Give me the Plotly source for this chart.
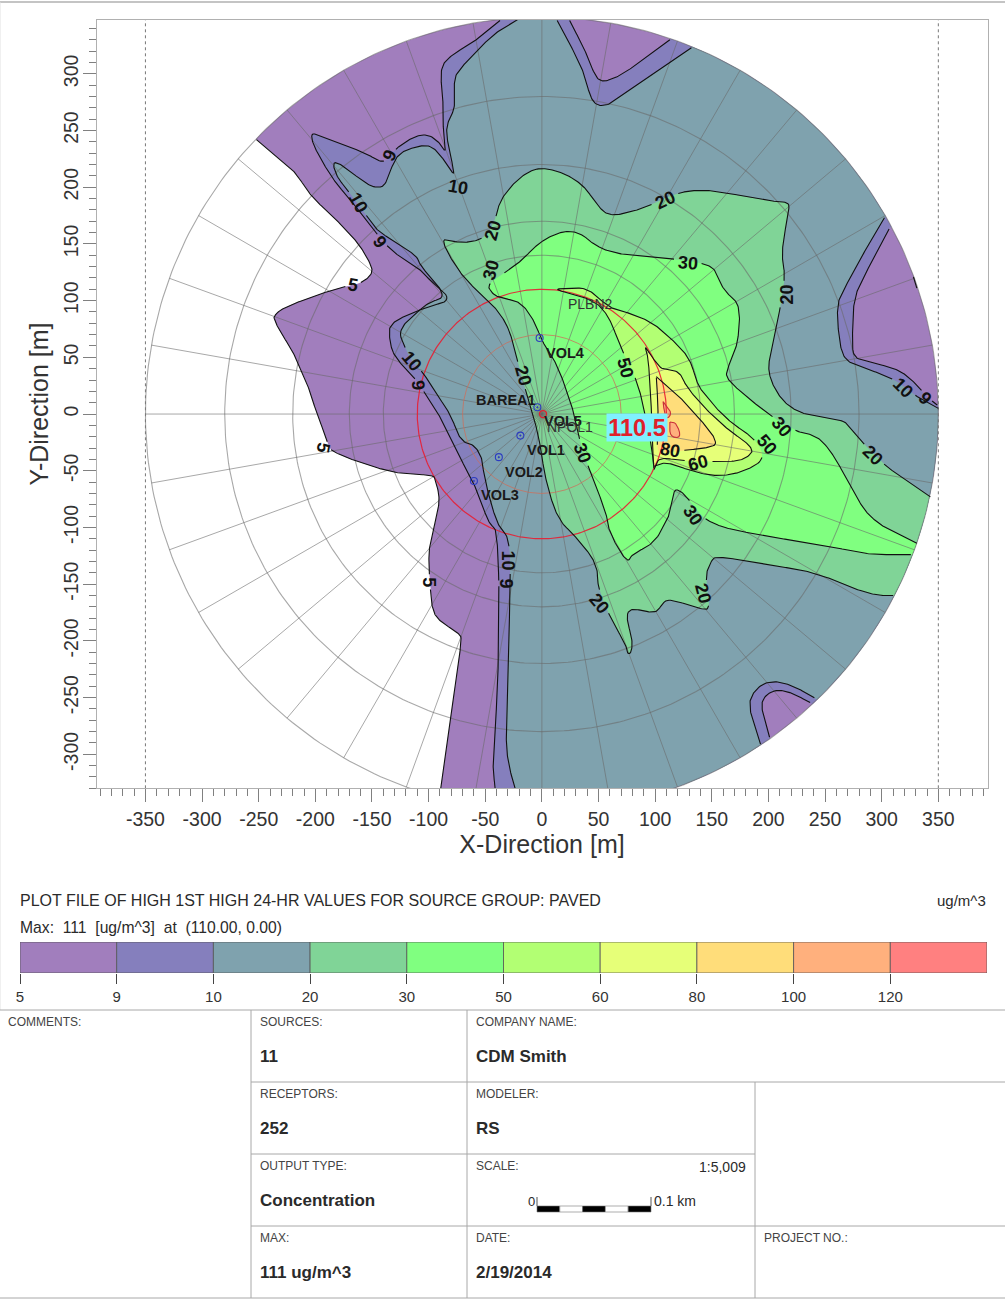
import numpy as np
import plotly.graph_objects as go

W, H = 1005, 1300
FONT = "Liberation Sans"
INK = "#2a2a2a"

# ---------- data: contour lines (metres) ----------
C5 = [(-252,242),(-231,224),(-218,214),(-204,192),(-184,174),(-166,155),(-159,146),(-150,130),(-150,123),(-160,115),
      (-172,113),(-196,106),(-238,90),(-234,77),(-219,54),(-212,36),(-206,24),(-199,1),(-193,-14),(-188,-29),(-185,-33),
      (-166,-41),(-134,-51),(-116,-53),(-96,-54),(-94,-58),(-90,-74),(-93,-91),(-99,-114),(-100,-129),(-99,-147),
      (-97,-173),(-90,-183),(-72,-194),(-71,-200),(-75,-229),(-81,-270),(-85,-300),(-90,-330),(-90,-338)]

C9_LEFT = [(-37,347),(-57,330),(-84,314),(-90,302),(-87,277),(-88,259),(-84,229),(-90,239),(-99,246),(-110,246),(-127,236),
           (-134,227),(-141,221),(-157,231),(-184,240),(-201,248),(-204,245),(-200,233),(-184,206),(-169,189),(-146,159),
           (-131,142),(-110,130),(-99,118),(-84,106),(-84,99),(-96,96),(-113,90),(-134,80),(-135,68),(-131,51),(-113,33),
           (-99,12),(-91,0),(-82,-20),(-71,-41),(-60,-61),(-52,-82),(-47,-96),(-38,-104),(-38,-229),(-43,-300),(-43,-317),
           (-41,-330),(-40,-347)]
C9_LOW = [(201,-285),(193,-258),(197,-248),(207,-243),(219,-245),(238,-255)]
C9_RIGHT = [(349,8),(340,15),(331,26),(316,39),(293,45),(275,49),(274,65),(275,101),(284,121),(307,164)]
C9_TOP = [(113,330),(93,315),(72,300),(57,293),(48,295),(40,317),(24,348)]

C10_LEFT = [(-21,348),(-37,339),(-51,327),(-72,305),(-78,295),(-76,271),(-84,256),(-84,242),(-76,208),(-84,221),(-96,236),
            (-107,237),(-125,231),(-132,220),(-137,204),(-143,199),(-154,202),(-178,221),(-185,222),(-181,209),(-172,198),
            (-154,174),(-146,162),(-128,151),(-110,139),(-107,130),(-90,112),(-87,102),(-99,99),(-110,90),(-127,74),
            (-121,59),(-115,46),(-104,36),(-96,21),(-81,1),(-72,-24),(-60,-27),(-53,-38),(-52,-49),(-46,-76),(-40,-94),
            (-37,-100),(-28,-111),(-28,-167),(-31,-241),(-32,-299),(-24,-330),(-18,-349)]
C10_LOW = [(193,-291),(182,-258),(187,-244),(200,-235),(219,-238),(242,-251)]
C10_RIGHT = [(350,5),(331,15),(313,30),(287,40),(269,46),(263,59),(260,95),(266,109),(284,142),(303,174)]
C10_TOP = [(132,323),(110,308),(66,277),(57,272),(48,272),(42,281),(37,303),(13,348)]

C20 = [(343,-73),(304,-47),(281,-23),(269,-7),(260,-5),(219,2),(198,34),(204,62),(209,86),(215,121),(212,136),(213,154),
       (219,183),(216,187),(207,187),(163,195),(140,198),(119,195),(96,184),(75,177),(60,175),(51,181),(34,206),(1,219),
       (-19,210),(-37,189),(-40,174),(-50,155),(-66,151),(-78,152),(-88,155),(-84,143),(-69,120),(-54,106),(-40,93),
       (-28,74),(-19,36),(-9,4),(-2,-23),(3,-58),(14,-93),(29,-107),(49,-132),(49,-152),(60,-179),(75,-205),(75,-211),
       (79,-211),(80,-199),(75,-182),(76,-173),(84,-172),(101,-176),(107,-166),(113,-163),(140,-172),(149,-172),(144,-144),
       (149,-130),(154,-125),(193,-132),(240,-139),(275,-154),(296,-160),(311,-160)]

C30 = [(331,-114),(290,-94),(272,-63),(257,-35),(243,-19),(225,-16),(198,1),(163,30),(163,39),(172,58),(175,83),(173,99),
       (160,109),(154,127),(143,133),(116,137),(81,139),(51,145),(29,164),(1,155),(-22,131),(-49,115),(-43,105),(-34,102),
       (-19,99),(-7,83),(1,62),(13,45),(25,12),(28,1),(36,-34),(45,-56),(58,-91),(57,-96),(66,-117),(76,-131),(79,-124),
       (99,-114),(109,-96),(112,-91),(116,-67),(122,-67),(131,-77),(146,-96),(181,-105),(257,-117),(287,-124),(327,-124)]

C50 = [(99,-46),(110,-42),(134,-51),(154,-55),(175,-52),(197,-41),(190,-23),(163,-5),(143,18),(137,27),(131,48),(119,62),
       (99,80),(78,89),(60,93),(41,111),(25,111),(9,110),(37,104),(57,92),(71,55),(84,30),(91,1),(96,-23)]
C60 = [(99,-49),(103,-38),(122,-41),(150,-42),(169,-42),(181,-39),(188,-30),(160,-11),(129,21),(122,37),(112,39),(104,40),
       (90,62),(94,51),(97,1),(97,-29)]
C80 = [(101,33),(109,26),(119,18),(143,-8),(156,-26),(146,-30),(125,-32),(110,-33),(101,-35),(103,1)]
C100_A = [(107,11),(115,1),(110,-5),(108,2)]
C100_B = [(113,-7),(119,-8),(123,-21),(113,-20)]
C_MINOR = [(328,121),(331,111)]

LEVELS = ["5", "9", "10", "20", "30", "50", "60", "80", "100", "120"]
COLORS = ["#A17EBD", "#857FBD", "#7FA2AE", "#80D497", "#80FF80", "#B2FF73", "#E6FF78", "#FFDD7A", "#FFB07D", "#FF8080"]

RINGS = [70, 110, 140, 170, 220, 280, 350]
SPOKES = list(range(0, 360, 10))

LBL_TEXT = ["9","10","10","9","5","10","9","5","5","10","9","20","20","30","20","30","20","50","30","80","60","50","30","20","30","20","20","10","9"]
LBL_X = [-134,-74,-162,-143,-167,-115,-109,-193,-100,-30,-32,216,109,129,-43,-45,-17,74,36,113,138,199,212,292,133,142,50,319,338]
LBL_Y = [228,200,186,152,114,47,25,-30,-148,-129,-149,105,189,133,162,127,34,41,-34,-32,-43,-27,-11,-36,-89,-158,-167,23,14]
LBL_ANGLE = [-65,10,60,55,10,50,85,100,90,90,90,-90,-25,5,-75,-75,75,75,70,10,-15,50,50,45,55,75,50,45,45]

SRC_X = [-2, -4, -19, -38, -60]
SRC_Y = [67, 6, -19, -38, -59]
SRC_RED_X, SRC_RED_Y = [1], [0]
BOLD_NAMES = ["VOL4", "VOL5", "BAREA1", "VOL1", "VOL2", "VOL3"]
BOLD_X = [20, 19, -32, 4, -16, -37]
BOLD_Y = [54, -6, 12, -32, -51, -71]
PLAIN_NAMES = ["PLBN2", "NPOL1"]
PLAIN_X = [43, 25]
PLAIN_Y = [97, -11]
PEAK_TEXT, PEAK_X, PEAK_Y = "110.5", 84, -12

X_TICKS = list(range(-350, 351, 50))
Y_TICKS = list(range(-300, 301, 50))

TITLE = "PLOT FILE OF HIGH 1ST HIGH 24-HR VALUES FOR SOURCE GROUP: PAVED"
UNITS = "ug/m^3"
MAXLINE = "Max:  111  [ug/m^3]  at  (110.00, 0.00)"
SMALL_CELLS = [("COMMENTS:", 8, 1022), ("SOURCES:", 260, 1022), ("COMPANY NAME:", 476, 1022), ("RECEPTORS:", 260, 1094),
               ("MODELER:", 476, 1094), ("OUTPUT TYPE:", 260, 1166), ("SCALE:", 476, 1166), ("MAX:", 260, 1238),
               ("DATE:", 476, 1238), ("PROJECT NO.:", 764, 1238)]
BIG_CELLS = [("11", 260, 1056), ("CDM Smith", 476, 1056), ("252", 260, 1128), ("RS", 476, 1128),
             ("Concentration", 260, 1200), ("111 ug/m^3", 260, 1272), ("2/19/2014", 476, 1272)]

R = 350.0


def chaikin(pts, passes=2):
    p = np.asarray(pts, float)
    for _ in range(passes):
        if len(p) < 3:
            return p
        a, b = p[:-1], p[1:]
        mid = np.empty((2 * len(a), 2))
        mid[0::2] = 0.75 * a + 0.25 * b
        mid[1::2] = 0.25 * a + 0.75 * b
        p = np.vstack([p[0], mid, p[-1]])
    return p


def arc(p0, p1):
    t0 = np.arctan2(p0[1], p0[0])
    t1 = np.arctan2(p1[1], p1[0])
    while t1 < t0:
        t1 += 2 * np.pi
    t = np.linspace(t0, t1, max(2, int((t1 - t0) * 60)))
    return np.column_stack([R * np.cos(t), R * np.sin(t)])


def region(pieces):
    """Closed outline: contour pieces joined by counter-clockwise runs of the outer circle."""
    sm = [chaikin(p) for p in pieces]
    out = []
    for i, p in enumerate(sm):
        out.append(p)
        out.append(arc(p[-1], sm[(i + 1) % len(sm)][0]))
    return np.vstack(out)


def closed(pts):
    return chaikin(list(pts) + [pts[0]])


def stroke(curves, level):
    """Contour stroke, broken where a label of the same level sits."""
    gaps = [(x, y, 12 if len(t) > 1 else 6.5) for t, x, y in zip(LBL_TEXT, LBL_X, LBL_Y) if t == level]
    xs, ys = [], []
    for c in curves:
        for a, b in zip(c[:-1], c[1:]):
            n = max(1, int(np.hypot(*(b - a))))
            for f in np.linspace(0, 1, n, endpoint=False):
                q = a + (b - a) * f
                if any(np.hypot(q[0] - gx, q[1] - gy) < gr for gx, gy, gr in gaps):
                    if xs and xs[-1] is not None:
                        xs.append(None); ys.append(None)
                else:
                    xs.append(float(q[0])); ys.append(float(q[1]))
        xs.append(None); ys.append(None)
    return xs, ys


fig = go.Figure()


def fill(poly, color):
    fig.add_trace(go.Scatter(x=poly[:, 0], y=poly[:, 1], mode="lines", fill="toself", fillcolor=color,
                             line=dict(width=0, color=color), hoverinfo="skip", showlegend=False))


fill(region([C5]), COLORS[0])
fill(region([C9_LEFT, C9_LOW, C9_RIGHT, C9_TOP]), COLORS[1])
fill(region([C10_LEFT, C10_LOW, C10_RIGHT, C10_TOP]), COLORS[2])
fill(region([C20]), COLORS[3])
fill(region([C30]), COLORS[4])
fill(closed(C50), COLORS[5])
fill(closed(C60), COLORS[6])
fill(closed(C80), COLORS[7])
fill(closed(C100_A), COLORS[8])
fill(closed(C100_B), COLORS[8])

# receptor grid
GRID = "rgba(105,105,105,0.58)"
th = np.linspace(0, 2 * np.pi, 361)
for a in SPOKES:
    fig.add_trace(go.Scatter(x=[0, R * np.cos(np.radians(a))], y=[0, R * np.sin(np.radians(a))], mode="lines",
                             line=dict(color=GRID, width=1), hoverinfo="skip", showlegend=False))
for r in RINGS:
    col, w = GRID, 1.1
    if r == 70:
        col, w = "rgba(205,110,90,0.75)", 1
    if r == 110:
        col, w = "rgba(232,30,50,0.9)", 1.2
    fig.add_trace(go.Scatter(x=r * np.cos(th), y=r * np.sin(th), mode="lines",
                             line=dict(color=col, width=w), hoverinfo="skip", showlegend=False))

# dotted limits
for xv in (-R, R):
    fig.add_trace(go.Scatter(x=[xv, xv], y=[-330, 347.7], mode="lines", line=dict(color="#777", width=1, dash="dot"),
                             hoverinfo="skip", showlegend=False))

# contour strokes
STROKES = [("5", [C5]), ("9", [C9_LEFT, C9_LOW, C9_RIGHT, C9_TOP]), ("10", [C10_LEFT, C10_LOW, C10_RIGHT, C10_TOP]),
           ("20", [C20]), ("30", [C30]), ("50", [C50 + C50[:1]]), ("60", [C60 + C60[:1]]), ("80", [C80 + C80[:1]])]
for lev, pieces in STROKES:
    sx, sy = stroke([chaikin(p) for p in pieces], lev)
    fig.add_trace(go.Scatter(x=sx, y=sy, mode="lines", line=dict(color="#111", width=1.1), hoverinfo="skip",
                             showlegend=False))
for p in (C100_A, C100_B):
    c = closed(p)
    fig.add_trace(go.Scatter(x=c[:, 0], y=c[:, 1], mode="lines", line=dict(color="#c8303a", width=1.1),
                             hoverinfo="skip", showlegend=False))
fig.add_trace(go.Scatter(x=[p[0] for p in C_MINOR], y=[p[1] for p in C_MINOR], mode="lines",
                         line=dict(color="#111", width=1.1), hoverinfo="skip", showlegend=False))

# sources
fig.add_trace(go.Scatter(x=SRC_X, y=SRC_Y, mode="markers", showlegend=False, hoverinfo="skip",
                         marker=dict(symbol="circle-open-dot", size=7, color="#2c3cc0", line=dict(width=1.1, color="#2c3cc0"))))
fig.add_trace(go.Scatter(x=SRC_RED_X, y=SRC_RED_Y, mode="markers", showlegend=False, hoverinfo="skip",
                         marker=dict(symbol="circle-open", size=7, color="#e02030", line=dict(width=1.3, color="#e02030"))))

# legend colour bar on its own axes
fig.add_trace(go.Bar(x=[i + 0.5 for i in range(len(COLORS))], y=[1] * len(COLORS), width=1, xaxis="x2", yaxis="y2",
                     marker=dict(color=COLORS, line=dict(color="#555", width=0.8)), hoverinfo="skip", showlegend=False))

ann = []


def note(text, x, y, size, bold=False, anchor="left", color=INK):
    pad = -2 if anchor == "left" else 2
    ann.append(dict(text=f"<b>{text}</b>" if bold else text, x=(x + pad) / W, y=1 - y / H, xref="paper", yref="paper",
                    xanchor=anchor, yanchor="middle", showarrow=False, font=dict(family=FONT, size=size, color=color)))


for t, x, y, a in zip(LBL_TEXT, LBL_X, LBL_Y, LBL_ANGLE):
    ann.append(dict(text=f"<b>{t}</b>", x=x, y=y, xref="x", yref="y", textangle=a, showarrow=False,
                    font=dict(family=FONT, size=18, color="#111")))
for t, x, y in zip(BOLD_NAMES, BOLD_X, BOLD_Y):
    ann.append(dict(text=f"<b>{t}</b>", x=x, y=y, xref="x", yref="y", showarrow=False,
                    font=dict(family=FONT, size=14.5, color="#1a1a1a")))
for t, x, y in zip(PLAIN_NAMES, PLAIN_X, PLAIN_Y):
    ann.append(dict(text=t, x=x, y=y, xref="x", yref="y", showarrow=False,
                    font=dict(family=FONT, size=14, color="#333")))
ann.append(dict(text=f"<b>{PEAK_TEXT}</b>", x=PEAK_X, y=PEAK_Y, xref="x", yref="y", showarrow=False, bgcolor="#80F0FF",
                width=60, height=27, borderpad=0, font=dict(family=FONT, size=23.5, color="#E0202A")))

note(TITLE, 20, 900, 16)
note(UNITS, 986, 900, 15, anchor="right")
note(MAXLINE, 20, 927, 15.7)
for t, x, y in SMALL_CELLS:
    note(t, x, y, 12, color="#444")
for t, x, y in BIG_CELLS:
    note(t, x, y, 17, bold=True)
note("1:5,009", 746, 1167, 14, anchor="right")
note("0", 528, 1201, 13)
note("0.1 km", 654, 1201, 14)

shapes = []


def rule(x0, y0, x1, y1, color="#a8a8a8", width=1):
    shapes.append(dict(type="line", xref="paper", yref="paper", x0=x0 / W, x1=x1 / W, y0=1 - y0 / H, y1=1 - y1 / H,
                       line=dict(color=color, width=width)))


rule(0, 2, W, 2, "#c4c4c4", 2)
rule(0, 2, 0, 1010, "#e2e2e2", 1)
rule(0, 1010, W, 1010)
rule(251, 1082, W, 1082)
rule(251, 1154, 755, 1154)
rule(251, 1226, W, 1226)
rule(0, 1298, W, 1298)
rule(251, 1010, 251, 1298)
rule(467, 1010, 467, 1298)
rule(755, 1082, 755, 1298)
# scale bar
for i in range(5):
    x0 = 537 + i * 22.8
    shapes.append(dict(type="rect", xref="paper", yref="paper", x0=x0 / W, x1=(x0 + 22.8) / W, y0=1 - 1212 / H, y1=1 - 1206 / H,
                       fillcolor="#000" if i % 2 == 0 else "#fff", line=dict(color="#777", width=0.6)))
rule(537, 1197, 537, 1206, "#555", 1)
rule(651, 1197, 651, 1206, "#555", 1)

TICKC = "#808080"
fig.update_layout(
    width=W, height=H, autosize=False, margin=dict(l=0, r=0, t=0, b=0, autoexpand=False), paper_bgcolor="white", plot_bgcolor="white",
    showlegend=False, annotations=ann, shapes=shapes,
    xaxis=dict(domain=[96.5 / W, 987.5 / W], range=[-393.2, 393.4], tickmode="array", tickvals=X_TICKS,
               ticktext=[str(v) for v in X_TICKS], ticks="outside", ticklen=13, tickcolor=TICKC,
               minor=dict(dtick=10, tick0=0, ticks="outside", ticklen=7, tickcolor=TICKC),
               tickfont=dict(family=FONT, size=19.5, color="#333"), showgrid=False, zeroline=False, showline=True,
               mirror=True, linecolor="#b0b0b0", linewidth=1,
               title=dict(text="X-Direction [m]", font=dict(family=FONT, size=25, color="#333"), standoff=2)),
    yaxis=dict(domain=[1 - 788.3 / H, 1 - 19.7 / H], range=[-330, 347.7], tickmode="array", tickvals=Y_TICKS,
               ticktext=[str(v) for v in Y_TICKS], ticks="outside", ticklen=13, tickcolor=TICKC, tickangle=-90,
               ticklabelstandoff=-3,
               minor=dict(dtick=10, tick0=0, ticks="outside", ticklen=7, tickcolor=TICKC),
               tickfont=dict(family=FONT, size=19.5, color="#333"), showgrid=False, zeroline=False, showline=True,
               mirror=True, linecolor="#b0b0b0", linewidth=1,
               title=dict(text="Y-Direction [m]", font=dict(family=FONT, size=25, color="#333"), standoff=3)),
    xaxis2=dict(domain=[20 / W, 987 / W], range=[0, 10], anchor="y2", tickmode="array", tickvals=list(range(len(LEVELS))),
                ticktext=LEVELS, ticks="outside", ticklen=10, tickcolor="#444", showgrid=False, zeroline=False,
                tickfont=dict(family=FONT, size=15, color="#333")),
    yaxis2=dict(domain=[1 - 973 / H, 1 - 942 / H], range=[0, 1], anchor="x2", visible=False),
)

fig.write_html("out.html", config=dict(displayModeBar=False), post_script="document.body.style.margin='0';")
